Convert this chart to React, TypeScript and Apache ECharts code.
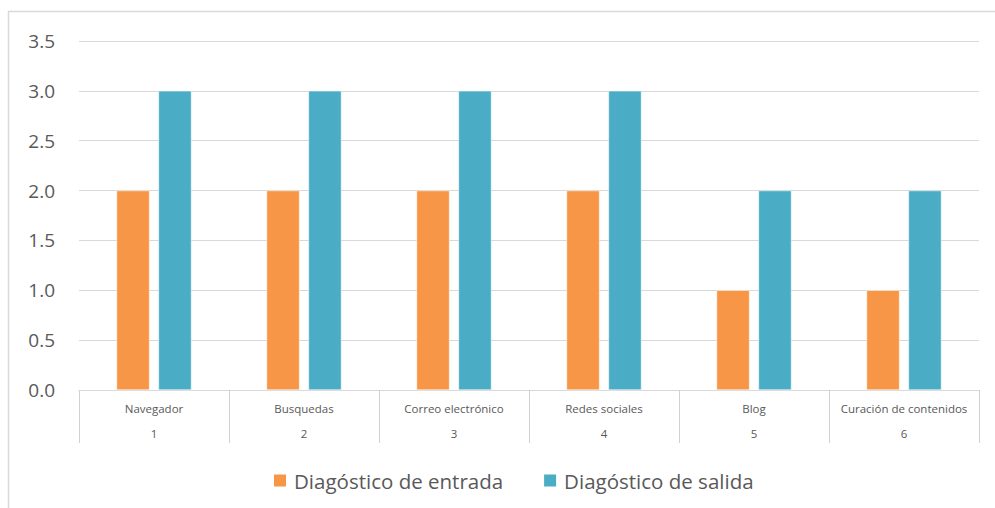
import React, { useEffect, useRef } from "react";
import * as echarts from "echarts";

const categories = ["Navegador", "Busquedas", "Correo electrónico", "Redes sociales", "Blog", "Curación de contenidos"];
const categoryNumbers = ["1", "2", "3", "4", "5", "6"];
const entrada = [2, 2, 2, 2, 1, 1];
const salida = [3, 3, 3, 3, 2, 2];
const seriesNames = ["Diagóstico de entrada", "Diagóstico de salida"];

const FONT = "'Open Sans', 'Noto Sans', sans-serif";

export default function App() {
  const ref = useRef<HTMLDivElement>(null);
  useEffect(() => {
    if (!ref.current) return;
    const chart = echarts.init(ref.current, null, { renderer: "svg" });
    chart.setOption({
      animation: false,
      textStyle: { fontFamily: FONT },
      graphic: [
        {
          type: "rect",
          shape: { x: 8.5, y: 11.5, width: 1000, height: 520 },
          style: { fill: "none", stroke: "#d9d9d9", lineWidth: 1.5 },
          silent: true,
        },
      ],
      grid: { left: 79, right: 16, top: 41, bottom: 118, containLabel: false },
      legend: {
        left: 267,
        top: 465,
        padding: 5,
        itemWidth: 14,
        itemHeight: 14,
        itemGap: 39,
        icon: "rect",
        textStyle: { fontSize: 20.5, color: "#595959", fontFamily: FONT, padding: [0, 0, 0, 2] },
        data: seriesNames,
      },
      xAxis: {
        type: "category",
        data: categories.map((c, i) => c + "|" + categoryNumbers[i]),
        axisLine: { lineStyle: { color: "#d9d9d9", width: 1 } },
        axisTick: { show: true, interval: 0, length: 53, lineStyle: { color: "#d0d0d0", width: 1 } },
        axisLabel: {
          interval: 0,
          margin: 6,
          formatter: (v: string) => {
            const [a, b] = v.split("|");
            return "{a|" + a + "}\n{b|" + b + "}";
          },
          rich: {
            a: { fontSize: 11.5, color: "#595959", lineHeight: 25, fontFamily: FONT },
            b: { fontSize: 11.5, color: "#595959", lineHeight: 25, fontFamily: FONT },
          },
        },
      },
      yAxis: {
        type: "value",
        min: 0,
        max: 3.5,
        interval: 0.5,
        axisLine: { show: false },
        axisTick: { show: false },
        splitLine: { lineStyle: { color: "#d9d9d9", width: 1 } },
        axisLabel: {
          fontSize: 19,
          color: "#595959",
          margin: 24,
          fontFamily: FONT,
          formatter: (v: number) => v.toFixed(1),
        },
      },
      series: [
        {
          name: seriesNames[0],
          type: "bar",
          data: entrada,
          barWidth: 33,
          barGap: "27%",
          itemStyle: { color: "#F79646", borderColor: "#ffffff", borderWidth: 0.5 },
        },
        {
          name: seriesNames[1],
          type: "bar",
          data: salida,
          barWidth: 33,
          itemStyle: { color: "#4BACC6", borderColor: "#ffffff", borderWidth: 0.5 },
        },
      ],
    });
    return () => chart.dispose();
  }, []);
  return (
    <div
      ref={ref}
      style={{ position: "fixed", left: 0, top: 0, width: 995, height: 508, background: "#ffffff" }}
    />
  );
}
